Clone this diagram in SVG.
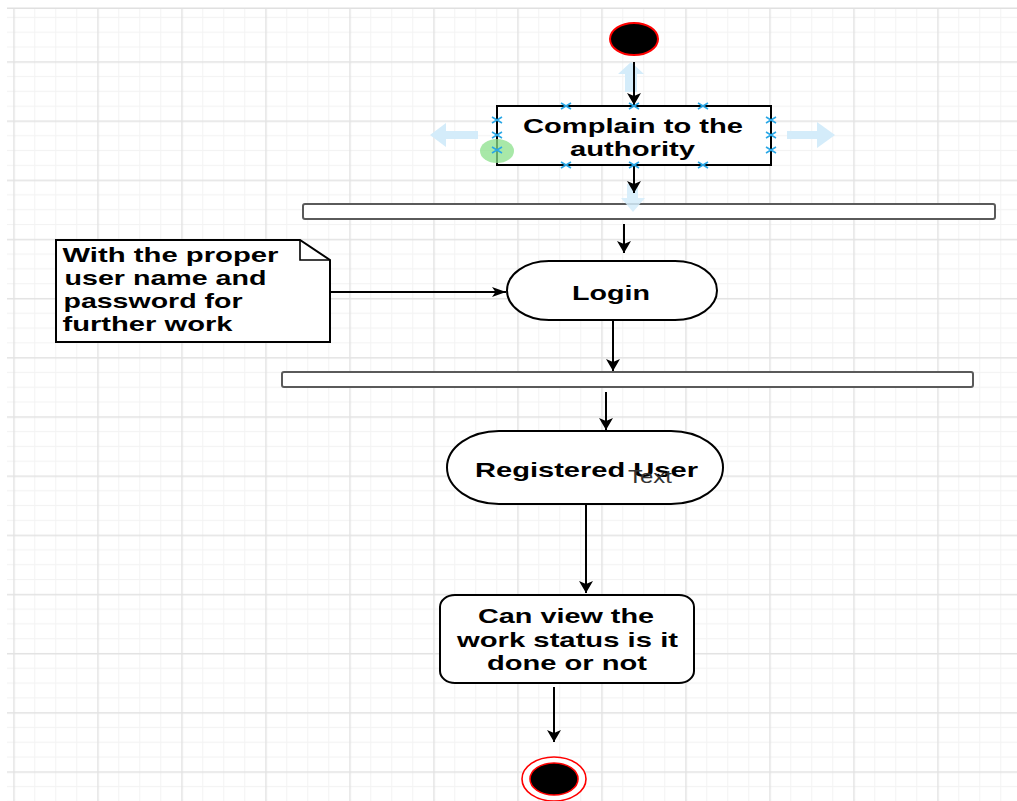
<svg xmlns="http://www.w3.org/2000/svg" width="1017" height="801" viewBox="0 0 1017 801">
<style>
.t{font-family:"Liberation Sans",Arial,sans-serif;font-weight:bold;font-size:21px;fill:#000}
.tc{text-anchor:middle}
.sh{fill:#fff;stroke:#000;stroke-width:2}
.bar{fill:#fff;stroke:#5a5a5a;stroke-width:2}
.cn{fill:none;stroke:#000;stroke-width:2}
.hv{fill:#d4ecfa}
.hx{stroke:#2aa7e6;stroke-width:1.6;fill:none}
</style>
<defs>
<pattern id="grid" patternUnits="userSpaceOnUse" x="13.25" y="2.1" width="84" height="59.17">
<rect x="0" y="0" width="84" height="59.17" fill="#fff"/>
<rect x="21" y="0" width="1" height="59.17" fill="#f3f3f3"/>
<rect x="42" y="0" width="1" height="59.17" fill="#f3f3f3"/>
<rect x="63" y="0" width="1" height="59.17" fill="#f3f3f3"/>
<rect x="0" y="14.79" width="84" height="1" fill="#f3f3f3"/>
<rect x="0" y="29.58" width="84" height="1" fill="#f3f3f3"/>
<rect x="0" y="44.38" width="84" height="1" fill="#f3f3f3"/>
<rect x="0" y="0" width="1.5" height="59.17" fill="#e3e3e3"/>
<rect x="0" y="0" width="84" height="1.5" fill="#e3e3e3"/>
</pattern>
<marker id="aV" viewBox="0 -7 12 14" markerWidth="12" markerHeight="14" refX="12" refY="0" orient="auto" markerUnits="userSpaceOnUse">
<path d="M0,-7 L12,0 L0,7 L3,0 Z" fill="#000"/>
</marker>
<marker id="aH" viewBox="0 -5 14 10" markerWidth="14" markerHeight="10" refX="14" refY="0" orient="auto" markerUnits="userSpaceOnUse">
<path d="M0,-5 L14,0 L0,5 L3.5,0 Z" fill="#000"/>
</marker>
</defs>
<rect width="1017" height="801" fill="#fff"/>
<rect x="7" y="8" width="1010" height="793" fill="url(#grid)"/>
<rect x="7" y="7.5" width="1010" height="1.5" fill="#e0e0e0"/>

<g id="start">
<ellipse cx="634" cy="39" rx="24" ry="16" fill="#000" stroke="#f00" stroke-width="2"/>
</g>

<g id="complain">
<rect class="sh" x="497" y="106" width="274" height="59"/>
<text class="t tc" x="633" y="133" textLength="220" lengthAdjust="spacingAndGlyphs">Complain to the</text>
<text class="t tc" x="632.5" y="156" textLength="125" lengthAdjust="spacingAndGlyphs">authority</text>
</g>

<g id="fork1">
<rect class="bar" x="303" y="204" width="692" height="15" rx="2"/>
</g>

<g id="note">
<path class="sh" d="M56,240 H300 L330,260 V342 H56 Z" stroke-width="1.6"/>
<path d="M300,240 V260 H330" fill="none" stroke="#000" stroke-width="1.6"/>
<text class="t" x="62.5" y="262" textLength="216" lengthAdjust="spacingAndGlyphs">With the proper</text>
<text class="t" x="64.5" y="285" textLength="202" lengthAdjust="spacingAndGlyphs">user name and</text>
<text class="t" x="63.5" y="308" textLength="179" lengthAdjust="spacingAndGlyphs">password for</text>
<text class="t" x="62.5" y="331" textLength="170" lengthAdjust="spacingAndGlyphs">further work</text>
</g>

<g id="login">
<path class="sh" d="M549,261 H675 A42,29.5 0 0 1 675,320 H549 A42,29.5 0 0 1 549,261 Z"/>
<text class="t tc" x="611" y="300" textLength="78" lengthAdjust="spacingAndGlyphs">Login</text>
</g>

<g id="fork2">
<rect class="bar" x="282" y="372" width="691" height="15" rx="2"/>
</g>

<g id="registered">
<path class="sh" stroke-width="2.5" d="M499,431 H671 A52,36.5 0 0 1 671,504 H499 A52,36.5 0 0 1 499,431 Z"/>
<text class="t tc" x="586.5" y="477" textLength="223" lengthAdjust="spacingAndGlyphs">Registered User</text>
<text x="650" y="483" text-anchor="middle" font-family="Liberation Sans, Arial, sans-serif" font-size="19" fill="#333" textLength="44" lengthAdjust="spacingAndGlyphs">Text</text>
</g>

<g id="status">
<rect class="sh" x="440" y="595" width="254" height="88" rx="15" ry="12"/>
<text class="t tc" x="566" y="623" textLength="176" lengthAdjust="spacingAndGlyphs">Can view the</text>
<text class="t tc" x="567.5" y="646.5" textLength="221" lengthAdjust="spacingAndGlyphs">work status is it</text>
<text class="t tc" x="567" y="670" textLength="160" lengthAdjust="spacingAndGlyphs">done or not</text>
</g>

<g id="end">
<ellipse cx="554" cy="779" rx="32" ry="22" fill="#fff" stroke="#f00" stroke-width="1.6"/>
<ellipse cx="554" cy="779" rx="24" ry="16" fill="#000" stroke="#f00" stroke-width="1.6"/>
</g>

<g id="hover">
<polygon class="hv" points="631,62 644,74 637,74 637,92 625,92 625,74 618,74"/>
<polygon class="hv" points="430,135 446,123 446,131 478,131 478,139 446,139 446,147"/>
<polygon class="hv" points="835,135 817,122 817,131 787,131 787,139 817,139 817,148"/>
<polygon class="hv" points="633,212 645,198 638,198 638,184 627,184 627,198 621,198" opacity="0.85"/>
<ellipse cx="497" cy="151" rx="17" ry="12" fill="#8be08b" opacity="0.75"/>
</g>

<g id="connectors">
<line class="cn" x1="634" y1="62" x2="634" y2="105" marker-end="url(#aV)"/>
<line class="cn" x1="634" y1="166" x2="634" y2="193" marker-end="url(#aV)"/>
<line class="cn" x1="624" y1="224" x2="624" y2="253" marker-end="url(#aV)" stroke-width="1.6"/>
<line class="cn" x1="330" y1="292" x2="506" y2="292" marker-end="url(#aH)" stroke-width="1.6"/>
<line class="cn" x1="613" y1="321" x2="613" y2="371" marker-end="url(#aV)" stroke-width="1.6"/>
<line class="cn" x1="606" y1="392" x2="606" y2="430" marker-end="url(#aV)" stroke-width="1.6"/>
<line class="cn" x1="586" y1="505" x2="586" y2="593" marker-end="url(#aV)" stroke-width="1.6"/>
<line class="cn" x1="554" y1="687" x2="554" y2="742" marker-end="url(#aV)" stroke-width="1.6"/>
</g>

<g id="handles" class="hx">
<path d="M561,103 L571,109 M561,109 L571,103"/>
<path d="M629,103 L639,109 M629,109 L639,103"/>
<path d="M698,103 L708,109 M698,109 L708,103"/>
<path d="M561,162 L571,168 M561,168 L571,162"/>
<path d="M629,162 L639,168 M629,168 L639,162"/>
<path d="M698,162 L708,168 M698,168 L708,162"/>
<path d="M492,117 L502,123 M492,123 L502,117"/>
<path d="M492,132 L502,138 M492,138 L502,132"/>
<path d="M492,147 L502,153 M492,153 L502,147"/>
<path d="M766,117 L776,123 M766,123 L776,117"/>
<path d="M766,132 L776,138 M766,138 L776,132"/>
<path d="M766,147 L776,153 M766,153 L776,147"/>
</g>
</svg>
